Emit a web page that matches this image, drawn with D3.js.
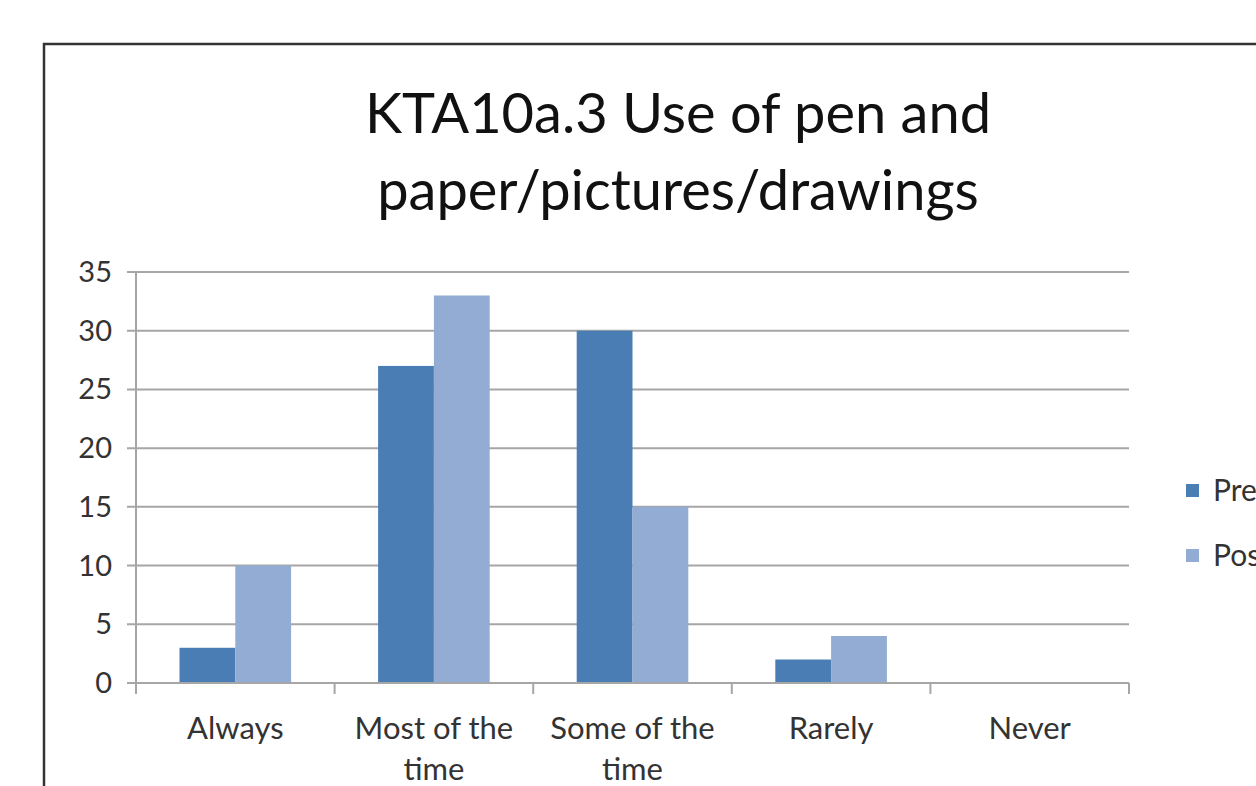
<!DOCTYPE html>
<html>
<head>
<meta charset="utf-8">
<script src="https://cdn.jsdelivr.net/npm/d3@7"></script>
<style>
  body { margin: 0; background: #fff; }
  svg { display: block; font-family: Lato, "Open Sans", sans-serif; }
</style>
</head>
<body>
<svg id="chart" width="1256" height="786"></svg>
<script>
// Chart data
var categories = [["Always"], ["Most of the", "time"], ["Some of the", "time"], ["Rarely"], ["Never"]];
var seriesNames = ["Pre", "Post"];
var preValues = [3, 27, 30, 2, 0];
var postValues = [10, 33, 15, 4, 0];
var yTicks = [0, 5, 10, 15, 20, 25, 30, 35];
var titleLines = ["KTA10a.3 Use of pen and", "paper/pictures/drawings"];

var colors = ["#4a7db3", "#92acd3"];

var svg = d3.select("#chart");

// Outer frame (runs off the right and bottom)
svg.append("rect")
    .attr("x", 44).attr("y", 44)
    .attr("width", 1300).attr("height", 800)
    .attr("fill", "#fff")
    .attr("stroke", "#333")
    .attr("stroke-width", 2.5);

var plotLeft = 136, plotRight = 1129, plotTop = 272, plotBottom = 683;

var y = d3.scaleLinear().domain([0, 35]).range([plotBottom, plotTop]);
var x0 = d3.scaleBand().domain(d3.range(categories.length)).range([plotLeft, plotRight]);
var x1 = d3.scaleBand().domain(d3.range(seriesNames.length)).range([43.5, x0.bandwidth() - 43.5]);

// Title
svg.append("g").selectAll("text")
    .data(titleLines)
    .enter().append("text")
    .attr("x", 678)
    .attr("y", function (d, i) { return 133 + i * 77; })
    .attr("text-anchor", "middle")
    .attr("font-size", 56)
    .attr("fill", "#111")
    .text(function (d) { return d; });

// Gridlines
svg.append("g").selectAll("line")
    .data(yTicks)
    .enter().append("line")
    .attr("x1", plotLeft - 9).attr("x2", plotRight)
    .attr("y1", function (d) { return y(d); })
    .attr("y2", function (d) { return y(d); })
    .attr("stroke", "#a6a6a6")
    .attr("stroke-width", 2);

// Y labels
svg.append("g").selectAll("text")
    .data(yTicks)
    .enter().append("text")
    .attr("x", 112)
    .attr("y", function (d) { return y(d) + 10; })
    .attr("text-anchor", "end")
    .attr("font-size", 29)
    .attr("fill", "#333")
    .text(function (d) { return d; });

// Bars
var groups = svg.append("g").selectAll("g")
    .data(categories.map(function (c, i) { return [preValues[i], postValues[i]]; }))
    .enter().append("g")
    .attr("transform", function (d, i) { return "translate(" + x0(i) + ",0)"; });

groups.selectAll("rect")
    .data(function (d) { return d; })
    .enter().append("rect")
    .attr("x", function (d, i) { return x1(i); })
    .attr("y", function (d) { return y(d); })
    .attr("width", x1.bandwidth())
    .attr("height", function (d) { return plotBottom - y(d); })
    .attr("fill", function (d, i) { return colors[i]; });

// Axes lines
svg.append("line")
    .attr("x1", plotLeft).attr("x2", plotLeft)
    .attr("y1", plotTop).attr("y2", plotBottom + 11)
    .attr("stroke", "#a6a6a6").attr("stroke-width", 2);
svg.append("line")
    .attr("x1", plotLeft).attr("x2", plotRight)
    .attr("y1", plotBottom).attr("y2", plotBottom)
    .attr("stroke", "#a6a6a6").attr("stroke-width", 2);
svg.append("g").selectAll("line")
    .data(d3.range(categories.length + 1))
    .enter().append("line")
    .attr("x1", function (d) { return plotLeft + d * x0.bandwidth(); })
    .attr("x2", function (d) { return plotLeft + d * x0.bandwidth(); })
    .attr("y1", plotBottom).attr("y2", plotBottom + 11)
    .attr("stroke", "#a6a6a6").attr("stroke-width", 2);

// X labels
var xl = svg.append("g").selectAll("text")
    .data(categories)
    .enter().append("text")
    .attr("x", function (d, i) { return x0(i) + x0.bandwidth() / 2; })
    .attr("y", 739)
    .attr("text-anchor", "middle")
    .attr("font-size", 31)
    .attr("fill", "#333");
xl.selectAll("tspan")
    .data(function (d) { return d; })
    .enter().append("tspan")
    .attr("x", function () { return d3.select(this.parentNode).attr("x"); })
    .attr("dy", function (d, i) { return i === 0 ? 0 : 41; })
    .text(function (d) { return d; });

// Legend
var legend = svg.append("g").selectAll("g")
    .data(seriesNames)
    .enter().append("g")
    .attr("transform", function (d, i) { return "translate(1186," + (484 + i * 65) + ")"; });
legend.append("rect")
    .attr("width", 13).attr("height", 13)
    .attr("fill", function (d, i) { return colors[i]; });
legend.append("text")
    .attr("x", 27).attr("y", 17)
    .attr("font-size", 30)
    .attr("fill", "#333")
    .text(function (d) { return d; });
</script>
</body>
</html>
